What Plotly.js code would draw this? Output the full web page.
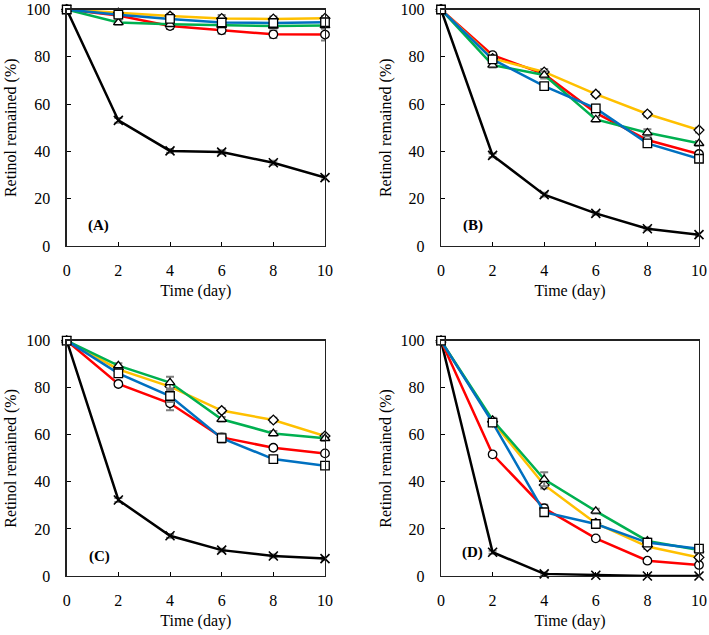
<!DOCTYPE html>
<html>
<head>
<meta charset="utf-8">
<script src="https://cdn.plot.ly/plotly-3.0.1.min.js"></script>
<style>html,body{margin:0;padding:0;background:#fff;}#chart{width:709px;height:635px;}</style>
</head>
<body>
<div id="chart"></div>
<script>
// ---- data ----
const days = [0, 2, 4, 6, 8, 10];

const A_black  = [100, 53.1, 40.2, 39.7, 35.2, 28.9];
const A_red    = [100, 97.5, 93.0, 91.2, 89.5, 89.4];
const A_blue   = [100, 97.8, 96.0, 94.5, 94.3, 94.6];
const A_green  = [100, 94.5, 93.8, 93.4, 93.0, 93.2];
const A_orange = [100, 98.5, 97.2, 96.2, 96.0, 96.3];

const B_black  = [100, 38.3, 21.7, 13.8, 7.3, 4.8];
const B_red    = [100, 80.7, 72.7, 56.3, 44.8, 38.9];
const B_blue   = [100, 78.9, 67.6, 58.2, 43.4, 36.9];
const B_green  = [100, 76.5, 72.3, 53.5, 47.9, 43.4];
const B_orange = [100, 79.3, 73.6, 64.2, 55.8, 49.0];

const C_black  = [100, 32.3, 17.1, 11.0, 8.5, 7.4];
const C_red    = [100, 81.6, 73.4, 58.9, 54.5, 52.1];
const C_blue   = [100, 86.1, 76.5, 58.6, 49.7, 46.9];
const C_green  = [100, 89.4, 82.2, 66.6, 60.6, 58.5];
const C_orange = [100, 87.8, 80.5, 70.3, 66.3, 59.5];

const D_black  = [100, 10.1, 0.9, 0.3, 0.0, 0.0];
const D_red    = [100, 51.7, 28.8, 16.0, 6.5, 4.7];
const D_blue   = [100, 65.2, 27.1, 22.1, 14.2, 11.6];
const D_green  = [100, 66.3, 41.1, 27.6, 14.9, 11.0];
const D_orange = [100, 65.6, 38.7, 22.4, 12.5, 7.9];

// error bars (standard deviation, %)
const A_err = {black:[0,1,0.8,0.8,0.8,0.8], red:[0,1,1.2,1.5,1.5,2.5], blue:[0,1,1,1.5,1.5,1.5], green:[0,1,1,1,1,1], orange:[0,0.8,1,1.5,1,1]};
const B_err = {black:[0,0.8,0.8,0.6,0.6,0.6], red:[0,1,1,1,1,1], blue:[0,1,1,1.5,1,1], green:[0,1,1.5,1,1.5,1], orange:[0,1,1.2,1,1,1]};
const C_err = {black:[0,0.8,0.8,0.6,0.6,0.6], red:[0,1,3,1.5,1,1], blue:[0,1,2.5,2,1,1], green:[0,1,2.5,1,1,1], orange:[0,1,1.5,1,1,1]};
const D_err = {black:[0,0.6,0.6,0.4,0.3,0.3], red:[0,1,1.5,1,0.8,0.8], blue:[0,1.5,1.5,1,1,1], green:[0,1,3,1,1,1], orange:[0,1,1.5,1,1,1]};

const panelLabels = ['(A)', '(B)', '(C)', '(D)'];
const xTitle = 'Time (day)';
const yTitle = 'Retinol remained (%)';

// ---- styles ----
const FONT = '"Liberation Serif", "Times New Roman", serif';
const seriesStyle = {
  black:  {color:'#000000', symbol:'x-thin'},
  red:    {color:'#FF0000', symbol:'circle'},
  orange: {color:'#FFC000', symbol:'diamond'},
  green:  {color:'#00B050', symbol:'triangle-up'},
  blue:   {color:'#0070C0', symbol:'square'}
};
const order = ['black','red','orange','green','blue'];

const panels = [
  {d:{black:A_black, red:A_red, blue:A_blue, green:A_green, orange:A_orange}, e:A_err, xa:'x',  ya:'y'},
  {d:{black:B_black, red:B_red, blue:B_blue, green:B_green, orange:B_orange}, e:B_err, xa:'x2', ya:'y2'},
  {d:{black:C_black, red:C_red, blue:C_blue, green:C_green, orange:C_orange}, e:C_err, xa:'x3', ya:'y3'},
  {d:{black:D_black, red:D_red, blue:D_blue, green:D_green, orange:D_orange}, e:D_err, xa:'x4', ya:'y4'}
];

const traces = [];
panels.forEach(p => {
  order.forEach(k => {
    const s = seriesStyle[k];
    const isX = k === 'black';
    traces.push({
      type:'scatter', mode:'lines+markers',
      x: days, y: p.d[k], xaxis: p.xa, yaxis: p.ya,
      showlegend:false, cliponaxis:false,
      line:{color:s.color, width:2.5},
      marker: isX ? {symbol:'x-thin', size:9, color:'#000', line:{color:'#000', width:1.6}}
                  : {symbol:s.symbol, size: s.symbol==='diamond'?7.5:8.5, color:'#ffffff', line:{color:'#000', width:1.3}},
      error_y:{type:'data', array:p.e[k], visible:true, color:'#7f7f7f', thickness:2, width:4}
    });
  });
});

const xDom = [[66.7/709, 325/709], [441/709, 699/709]];
const yDom = [[1-246/635, 1-9.5/635], [1-576/635, 1-340.7/635]];

function xaxis(dom, anchor) {
  return {domain:dom, anchor:anchor, range:[0,10], tickmode:'linear', tick0:0, dtick:2,
    ticks:'inside', ticklen:4, tickwidth:1, tickcolor:'#000', showline:true, mirror:true,
    linecolor:'#222', linewidth:1.3, showgrid:false, zeroline:false,
    tickfont:{family:FONT, size:16, color:'#000'}, ticklabelstandoff:9,
    title:{text:xTitle, font:{family:FONT, size:16, color:'#000'}, standoff:7}};
}
function yaxis(dom, anchor) {
  return {domain:dom, anchor:anchor, range:[0,100], tickmode:'linear', tick0:0, dtick:20,
    ticks:'inside', ticklen:4, tickwidth:1, tickcolor:'#000', showline:true, mirror:true,
    linecolor:'#222', linewidth:1.3, showgrid:false, zeroline:false,
    tickfont:{family:FONT, size:16, color:'#000'}, ticklabelstandoff:12,
    title:{text:yTitle, font:{family:FONT, size:16, color:'#000'}, standoff:5}};
}

const labelPos = [[1.22, 8.6], [1.24, 8.5], [1.26, 8.5], [1.24, 9.8]];
const annotations = panelLabels.map((t, i) => ({
  text:'<b>'+t+'</b>', xref: i===0?'x':'x'+(i+1), yref: i===0?'y':'y'+(i+1),
  x: labelPos[i][0], y: labelPos[i][1], showarrow:false,
  font:{family:FONT, size:15, color:'#000'}, xanchor:'center', yanchor:'middle'
}));

const layout = {
  width:709, height:635, margin:{l:0, r:0, t:0, b:0},
  paper_bgcolor:'#fff', plot_bgcolor:'#fff',
  font:{family:FONT, color:'#000'},
  xaxis: xaxis(xDom[0], 'y'),  yaxis: yaxis(yDom[0], 'x'),
  xaxis2: xaxis(xDom[1], 'y2'), yaxis2: yaxis(yDom[0], 'x2'),
  xaxis3: xaxis(xDom[0], 'y3'), yaxis3: yaxis(yDom[1], 'x3'),
  xaxis4: xaxis(xDom[1], 'y4'), yaxis4: yaxis(yDom[1], 'x4'),
  annotations: annotations
};

Plotly.newPlot('chart', traces, layout, {staticPlot:true, displayModeBar:false});
</script>
</body>
</html>
